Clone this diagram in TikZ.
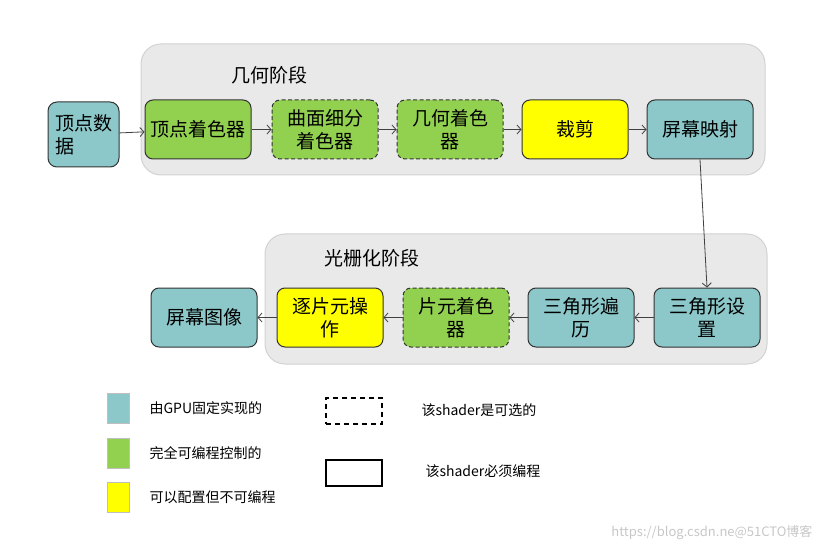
\documentclass[tikz,border=0pt]{standalone}
\usepackage{fontspec}
\setmainfont{Noto Sans CJK SC}
\usetikzlibrary{arrows.meta}
\definecolor{teal}{HTML}{8CC8C9}
\definecolor{grn}{HTML}{92D050}
\definecolor{ylw}{HTML}{FFFF00}
\definecolor{panel}{HTML}{E9E9E9}
\definecolor{panelline}{HTML}{D2D2D2}
\definecolor{edge}{HTML}{333333}
\tikzset{
  panelbox/.style={fill=panel,draw=panelline,line width=1pt,rounded corners=20pt},
  stagebox/.style={draw=edge,line width=1pt,rounded corners=8pt,minimum width=106pt,minimum height=59pt,inner sep=1pt,align=center,font=\fontsize{19}{23}\selectfont},
  fixedbox/.style={stagebox,fill=teal},
  progbox/.style={stagebox,fill=grn},
  confbox/.style={stagebox,fill=ylw},
  optbox/.style={dashed,dash pattern=on 4pt off 2.5pt},
  flow/.style={draw=black!75,line width=0.8pt,-{Straight Barb[length=4pt,width=9pt]}},
  titletext/.style={font=\fontsize{19}{23}\selectfont},
  legtext/.style={font=\fontsize{14}{17}\selectfont,anchor=west},
  legsq/.style={draw=black!25,line width=0.6pt,minimum width=22pt,minimum height=30pt,inner sep=0pt},
  legrect/.style={draw=black,line width=1.3pt,minimum width=56pt,minimum height=26pt,inner sep=0pt},
}
\begin{document}
\begin{tikzpicture}[x=1pt,y=-1pt]
\useasboundingbox (0,0) rectangle (829,553);
% panels
\draw[panelbox] (141,44) rectangle (765,175);
\draw[panelbox] (265,234) rectangle (767,364);
\node[titletext] (t1) at (269,75) {几何阶段};
\node[titletext] (t2) at (372,258) {光栅化阶段};
% top row
\node[fixedbox,minimum width=71pt,minimum height=65pt,rounded corners=9pt,align=left] (vd) at (83.5,134.5) {顶点数\\据};
\node[progbox] (vs) at (198,129.5) {顶点着色器};
\node[progbox,optbox] (ts) at (325,129.5) {曲面细分\\着色器};
\node[progbox,optbox] (gs) at (450,129.5) {几何着色\\器};
\node[confbox] (cl) at (575,129.5) {裁剪};
\node[fixedbox] (sm) at (700,129.5) {屏幕映射};
% bottom row
\node[fixedbox] (tsu) at (707,317.5) {三角形设\\置};
\node[fixedbox] (tt) at (581,317.5) {三角形遍\\历};
\node[progbox,optbox] (fs) at (456,317.5) {片元着色\\器};
\node[confbox] (po) at (330,317.5) {逐片元操\\作};
\node[fixedbox] (si) at (204,317.5) {屏幕图像};
% connectors
\draw[flow] (vd) -- (vs);
\draw[flow] (vs) -- (ts);
\draw[flow] (ts) -- (gs);
\draw[flow] (gs) -- (cl);
\draw[flow] (cl) -- (sm);
\draw[flow] (sm.south) -- (tsu.north);
\draw[flow] (tsu) -- (tt);
\draw[flow] (tt) -- (fs);
\draw[flow] (fs) -- (po);
\draw[flow] (po) -- (si);
% legend
\node[legsq,fill=teal] (l1) at (118,408) {};
\node[legsq,fill=grn] (l2) at (118,453) {};
\node[legsq,fill=ylw] (l3) at (118,497) {};
\node[legtext] (l1t) at (146,408) {由GPU固定实现的};
\node[legtext] (l2t) at (146,453) {完全可编程控制的};
\node[legtext] (l3t) at (146,497) {可以配置但不可编程};
\node[legrect,dashed,dash pattern=on 5pt off 4pt] (l4) at (354,411) {};
\node[legrect] (l5) at (354,473) {};
\node[legtext] (l4t) at (418,410) {该shader是可选的};
\node[legtext] (l5t) at (422,471) {该shader必须编程};
\node[anchor=east,font=\fontsize{13}{15}\selectfont,text=black!22] (wm) at (816,533) {https://blog.csdn.ne@51CTO博客};
\end{tikzpicture}
\end{document}
